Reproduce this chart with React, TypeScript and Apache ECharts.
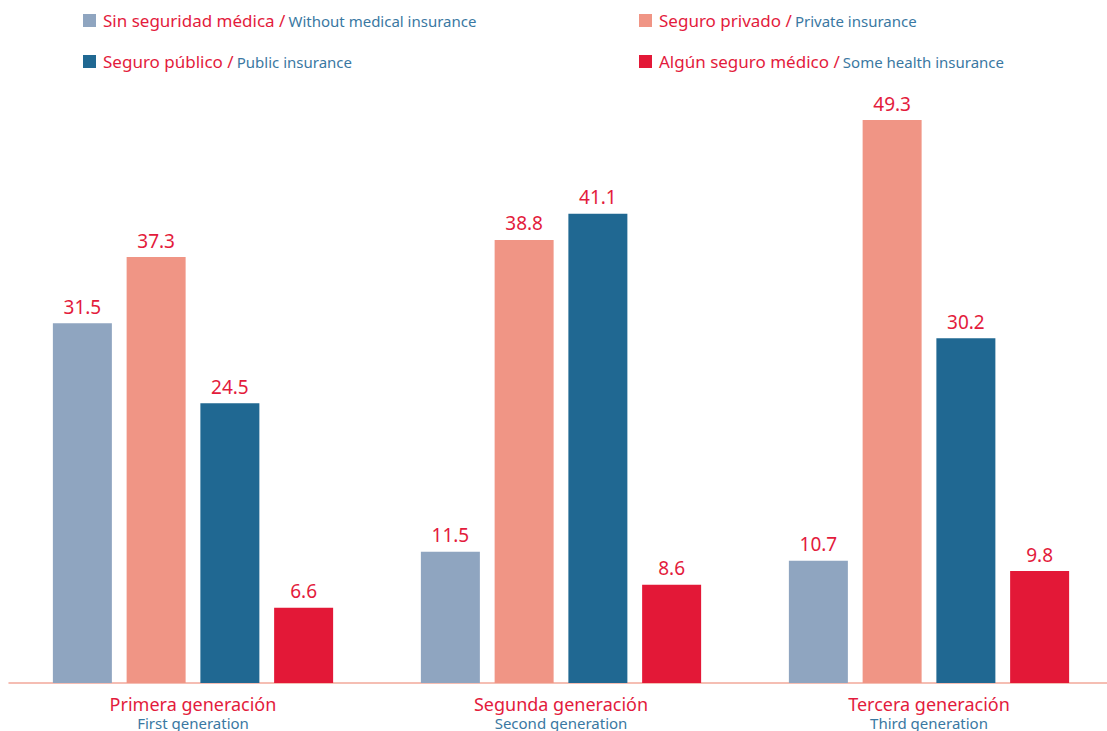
import React, { useEffect, useRef } from "react";
import * as echarts from "echarts";

const categoriesEs = ["Primera generación", "Segunda generación", "Tercera generación"];
const categoriesEn = ["First generation", "Second generation", "Third generation"];

const seriesNamesEs = ["Sin seguridad médica", "Seguro privado", "Seguro público", "Algún seguro médico"];
const seriesNamesEn = ["Without medical insurance", "Private insurance", "Public insurance", "Some health insurance"];
const seriesColors = ["#8fa5c0", "#f09585", "#206892", "#e31837"];

const withoutInsurance = [31.5, 11.5, 10.7];
const privateInsurance = [37.3, 38.8, 49.3];
const publicInsurance = [24.5, 41.1, 30.2];
const someInsurance = [6.6, 8.6, 9.8];

const seriesValues = [withoutInsurance, privateInsurance, publicInsurance, someInsurance];

const RED = "#e31b3c";
const BLUE = "#3a78a2";
const FONT = "Noto Sans";

export default function App() {
  const ref = useRef<HTMLDivElement>(null);
  useEffect(() => {
    if (!ref.current) return;
    const chart = echarts.init(ref.current, undefined, { renderer: "svg" });
    const legendFormatter = (name: string) => {
      const i = seriesNamesEs.indexOf(name);
      return `{es|${name} /} {en|${seriesNamesEn[i]}}`;
    };
    const legendText = {
      fontFamily: FONT,
      padding: [0, 0, 0, 2],
      rich: {
        es: { color: RED, fontSize: 17, fontFamily: FONT },
        en: { color: BLUE, fontSize: 15, fontFamily: FONT },
      },
    };
    const legendBase = {
      top: 12,
      orient: "vertical",
      padding: 0,
      itemGap: 24,
      itemWidth: 13,
      itemHeight: 13,
      icon: "rect",
      formatter: legendFormatter,
      textStyle: legendText,
      selectedMode: false,
    };
    chart.setOption({
      animation: false,
      textStyle: { fontFamily: FONT },
      legend: [
        { ...legendBase, left: 83, data: [seriesNamesEs[0], seriesNamesEs[2]] },
        { ...legendBase, left: 639, data: [seriesNamesEs[1], seriesNamesEs[3]] },
      ],
      grid: { left: 9, right: 0, top: 55, bottom: 48, containLabel: false },
      xAxis: {
        type: "category",
        data: categoriesEs,
        axisLine: { lineStyle: { color: "#f2a89a", width: 1.5 } },
        axisTick: { show: false },
        axisLabel: {
          margin: 10,
          interval: 0,
          formatter: (v: string) => {
            const i = categoriesEs.indexOf(v);
            return `{es|${v}}\n{en|${categoriesEn[i]}}`;
          },
          rich: {
            es: { color: RED, fontSize: 18, fontFamily: FONT, lineHeight: 21 },
            en: { color: BLUE, fontSize: 15, fontFamily: FONT, lineHeight: 18 },
          },
        },
      },
      yAxis: {
        type: "value",
        min: 0,
        max: 55,
        show: false,
        splitLine: { show: false },
      },
      series: seriesValues.map((vals, i) => ({
        type: "bar",
        name: seriesNamesEs[i],
        data: vals,
        barWidth: 59,
        barGap: "25%",
        itemStyle: { color: seriesColors[i] },
        label: {
          show: true,
          position: "top",
          distance: 7,
          color: RED,
          fontSize: 19,
          fontFamily: FONT,
          formatter: (p: any) => Number(p.value).toFixed(1),
        },
      })),
    });
    return () => chart.dispose();
  }, []);
  return (
    <div
      style={{ position: "absolute", left: 0, top: 0, width: 1107, height: 731, overflow: "hidden", background: "#fff" }}
    >
      <div ref={ref} style={{ width: 1113, height: 731 }} />
    </div>
  );
}
